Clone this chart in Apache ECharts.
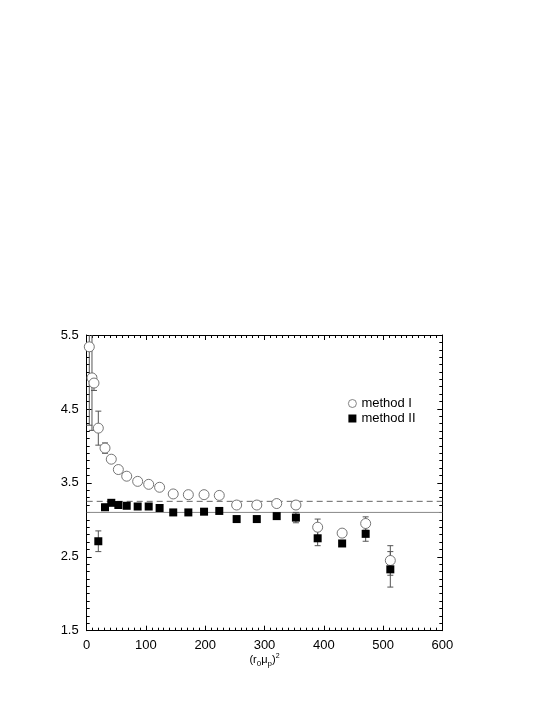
<!DOCTYPE html>
<html>
<head>
<meta charset="utf-8">
<script src="https://cdn.jsdelivr.net/npm/echarts@6/dist/echarts.min.js"></script>
<style>
html,body{margin:0;padding:0;background:#fff;}
#c{width:545px;height:705px;}
</style>
</head>
<body>
<div id="c"></div>
<script>
const xTicks = [0, 100, 200, 300, 400, 500, 600];
const yTicks = [1.5, 2.5, 3.5, 4.5, 5.5];

const xMethodI = [4.4, 8.9, 12.3, 19.6, 30.9, 41.5, 53.4, 67.5, 86, 104.6, 123, 146, 171.5, 198, 223.7, 253, 287, 320.6, 353, 389.7, 431, 470.7, 512.3];
const yMethodI = [5.34, 4.92, 4.85, 4.24, 3.97, 3.82, 3.68, 3.59, 3.52, 3.48, 3.44, 3.35, 3.34, 3.34, 3.33, 3.20, 3.20, 3.22, 3.20, 2.90, 2.82, 2.95, 2.45];
const errMethodI = [1.06, 0.71, 0.10, 0.23, 0.07, 0.03, 0.03, 0.02, 0.02, 0.02, 0.02, 0.02, 0.02, 0.02, 0.02, 0.03, 0.03, 0.04, 0.05, 0.11, 0.03, 0.09, 0.20];

const xMethodII = [19.6, 30.9, 41.5, 53.4, 67.5, 86, 104.6, 123, 146, 171.5, 198, 223.7, 253, 287, 320.6, 353, 389.7, 431, 470.7, 512.3];
const yMethodII = [2.71, 3.17, 3.23, 3.20, 3.19, 3.18, 3.18, 3.16, 3.10, 3.10, 3.11, 3.12, 3.01, 3.01, 3.05, 3.03, 2.75, 2.68, 2.81, 2.33];
const errMethodII = [0.14, 0.04, 0.02, 0.02, 0.02, 0.02, 0.02, 0.02, 0.02, 0.02, 0.02, 0.02, 0.03, 0.03, 0.03, 0.07, 0.10, 0.03, 0.10, 0.24];

const dashedLevel = 3.25;
const solidLevel = 3.10;

const seriesNames = ['method I', 'method II'];

const dataI = xMethodI.map((x, i) => [x, yMethodI[i], errMethodI[i]]);
const dataII = xMethodII.map((x, i) => [x, yMethodII[i], errMethodII[i]]);

function errRender(params, api) {
  const x = api.value(0), y = api.value(1), e = api.value(2);
  const t = api.coord([x, y + e]);
  const b = api.coord([x, y - e]);
  const w = 3;
  const st = { stroke: '#555', lineWidth: 1 };
  return {
    type: 'group',
    children: [
      { type: 'line', shape: { x1: t[0], y1: t[1], x2: b[0], y2: b[1] }, style: st },
      { type: 'line', shape: { x1: t[0] - w, y1: t[1], x2: t[0] + w, y2: t[1] }, style: st },
      { type: 'line', shape: { x1: b[0] - w, y1: b[1], x2: b[0] + w, y2: b[1] }, style: st }
    ]
  };
}

const font = 'Liberation Sans, Arial, Helvetica, sans-serif';
const axisLine = { show: true, onZero: false, lineStyle: { color: '#000', width: 1 } };

const chart = echarts.init(document.getElementById('c'), null, { renderer: 'canvas' });
chart.setOption({
  backgroundColor: '#fff',
  animation: false,
  grid: { left: 86.7, right: 102.7, top: 335, bottom: 74.3, containLabel: false },
  legend: {
    orient: 'vertical', left: 343, top: 392,
    itemWidth: 8, itemHeight: 8, itemGap: 2,
    data: [
      { name: seriesNames[0], icon: 'circle', itemStyle: { color: '#fff', borderColor: '#666', borderWidth: 0.8 } },
      { name: seriesNames[1], icon: 'rect', itemStyle: { color: '#000', borderWidth: 0 } }
    ],
    textStyle: { fontFamily: font, fontSize: 13, color: '#000' }
  },
  xAxis: [
    {
      type: 'value', min: xTicks[0], max: xTicks[xTicks.length - 1], interval: 100,
      axisLine: axisLine,
      axisTick: { show: true, inside: true, length: 5, lineStyle: { color: '#000' } },
      minorTick: { show: true, splitNumber: 10, length: 3, lineStyle: { color: '#000' } },
      splitLine: { show: false },
      axisLabel: { fontFamily: font, fontSize: 13, color: '#000', margin: 8 },
      name: '(r{sub|0}μ{sub|p}){sup|2}',
      nameLocation: 'middle', nameGap: 22,
      nameTextStyle: {
        fontFamily: font, fontSize: 11, color: '#000',
        rich: {
          sub: { fontFamily: font, fontSize: 8, verticalAlign: 'bottom', padding: [6, 0, 0, 0] },
          sup: { fontFamily: font, fontSize: 7, verticalAlign: 'top', padding: [0, 0, 8, 0] }
        }
      }
    },
    {
      type: 'value', position: 'top', min: 0, max: 600, interval: 100,
      axisLine: axisLine,
      axisTick: { show: true, inside: true, length: 5, lineStyle: { color: '#000' } },
      minorTick: { show: true, splitNumber: 10, length: 3, lineStyle: { color: '#000' } },
      splitLine: { show: false },
      axisLabel: { show: false }
    }
  ],
  yAxis: [
    {
      type: 'value', min: yTicks[0], max: yTicks[yTicks.length - 1], interval: 1,
      axisLine: axisLine,
      axisTick: { show: true, inside: true, length: 5, lineStyle: { color: '#000' } },
      minorTick: { show: true, splitNumber: 10, length: 3, lineStyle: { color: '#000' } },
      splitLine: { show: false },
      axisLabel: { fontFamily: font, fontSize: 13, color: '#000', margin: 8, formatter: v => v.toFixed(1) }
    },
    {
      type: 'value', position: 'right', min: 1.5, max: 5.5, interval: 1,
      axisLine: axisLine,
      axisTick: { show: true, inside: true, length: 5, lineStyle: { color: '#000' } },
      minorTick: { show: true, splitNumber: 10, length: 3, lineStyle: { color: '#000' } },
      splitLine: { show: false },
      axisLabel: { show: false }
    }
  ],
  series: [
    {
      type: 'line', name: 'dashed', data: [[0, dashedLevel], [600, dashedLevel]],
      symbol: 'none', silent: true, z: 1,
      lineStyle: { color: '#666', width: 1, type: [6, 4] }
    },
    {
      type: 'line', name: 'solid', data: [[0, solidLevel], [600, solidLevel]],
      symbol: 'none', silent: true, z: 1,
      lineStyle: { color: '#888', width: 1 }
    },
    { type: 'custom', name: 'errI', data: dataI, renderItem: errRender, encode: { x: 0, y: 1 }, clip: true, z: 2, silent: true },
    { type: 'custom', name: 'errII', data: dataII, renderItem: errRender, encode: { x: 0, y: 1 }, clip: true, z: 2, silent: true },
    {
      type: 'scatter', name: seriesNames[0], data: dataI, symbol: 'circle', symbolSize: 10, z: 3,
      itemStyle: { color: '#fff', borderColor: '#666', borderWidth: 0.9, opacity: 1 },
      encode: { x: 0, y: 1 }
    },
    {
      type: 'scatter', name: seriesNames[1], data: dataII, symbol: 'rect', symbolSize: 8, z: 4,
      itemStyle: { color: '#000', opacity: 1 },
      encode: { x: 0, y: 1 }
    }
  ]
});
</script>
</body>
</html>
